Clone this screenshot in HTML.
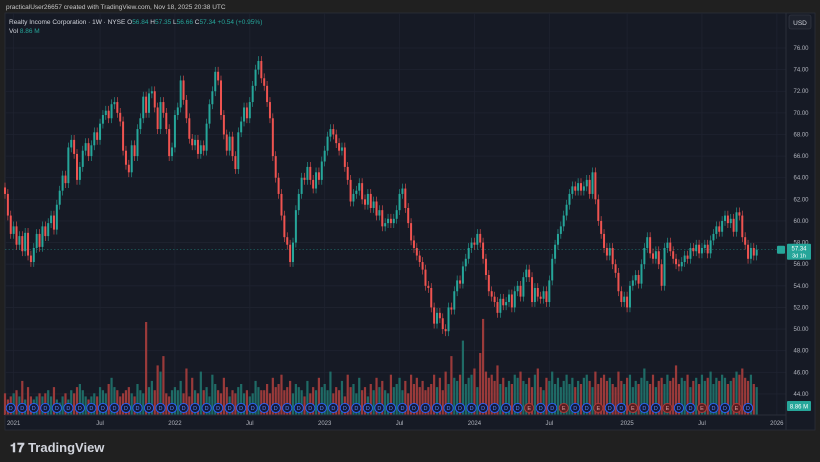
<!DOCTYPE html>
<html><head><meta charset="utf-8">
<style>
body{margin:0;background:#202020;width:820px;height:462px;overflow:hidden;font-family:"Liberation Sans",sans-serif}
svg{display:block}
</style></head>
<body>
<svg id="chart" width="820" height="462">
<rect x="0" y="0" width="820" height="462" fill="#202020"/>
<text x="6" y="9" font-size="6.5" fill="#c8c8c8">practicalUser26657 created with TradingView.com, Nov 18, 2025 20:38 UTC</text>
<rect x="5" y="13" width="810" height="417" fill="#161a25" stroke="#2a2e39" stroke-width="0.8"/>
<g id="grid"></g>
<g id="vol"></g>
<g id="candles"></g>
<g id="markers"></g>
<line x1="786" y1="13" x2="786" y2="430" stroke="#2a2e39"/>
<line x1="5" y1="415" x2="786" y2="415" stroke="#2a2e39"/>
<g id="axes" font-size="6" fill="#b2b5be"></g>
<rect x="789" y="15" width="22" height="14" rx="2" fill="#1e222d" stroke="#3a3e49" stroke-width="0.6"/>
<text x="800" y="25" font-size="6.5" fill="#d1d4dc" text-anchor="middle">USD</text>
<text x="9" y="24" font-size="6.5" fill="#d1d4dc">Realty Income Corporation · 1W · NYSE  O<tspan fill="#26a69a">56.84</tspan> H<tspan fill="#26a69a">57.35</tspan> L<tspan fill="#26a69a">56.66</tspan> C<tspan fill="#26a69a">57.34</tspan> <tspan fill="#26a69a">+0.54 (+0.95%)</tspan></text>
<text x="9" y="33" font-size="6.5" fill="#d1d4dc">Vol <tspan fill="#26a69a">8.86 M</tspan></text>
<text x="10" y="452" font-size="13" font-weight="bold" fill="#d1d4dc">𝟏𝟕 TradingView</text>
</svg>
<script>
const closes=[62.5,60.5,58.8,59.5,57.8,58.6,57.2,58.9,56.8,56.2,57.5,58.8,57.6,59.5,58.6,59.8,60.5,59.2,61.5,62.8,
64.2,63.5,66.8,67.5,66.2,63.8,65.0,66.5,67.2,66.0,67.0,68.2,67.5,69.0,69.8,70.2,69.5,70.8,71.0,70.0,
69.2,66.5,65.2,64.5,67.0,66.0,68.5,69.5,71.5,70.0,71.8,72.0,70.5,68.5,71.0,70.0,68.5,66.0,66.8,69.8,
70.5,73.0,71.2,69.5,67.6,67.0,67.5,66.2,67.0,66.5,69.0,70.8,72.0,73.8,73.0,69.8,68.0,66.5,67.8,66.0,
64.8,68.2,69.2,70.5,69.5,71.0,72.5,74.0,74.8,73.2,72.5,71.0,69.5,66.0,64.0,62.5,60.5,58.5,57.8,56.2,
58.0,61.0,62.5,64.0,63.8,65.0,63.8,63.0,64.5,63.8,65.5,66.5,67.8,68.5,68.0,67.2,66.5,66.8,65.0,63.8,
61.8,62.5,62.8,63.5,62.0,61.5,62.5,61.2,61.8,60.5,61.0,59.5,59.8,60.2,59.8,60.2,61.0,62.5,63.0,61.2,
59.8,58.2,57.5,56.8,56.2,55.5,54.0,53.8,52.0,50.5,51.5,51.0,50.0,49.8,52.0,51.8,53.5,54.5,54.2,55.8,
56.5,57.5,58.0,57.8,58.8,58.0,56.5,55.0,53.5,53.0,52.5,51.5,52.8,52.2,52.5,53.2,52.0,53.5,54.0,53.0,
54.8,55.5,54.8,52.5,53.8,53.0,52.8,53.5,52.5,54.5,56.5,57.8,58.8,59.5,60.5,61.5,62.5,63.2,62.8,63.5,
62.8,63.2,63.8,62.5,64.5,62.0,60.0,58.8,57.5,56.8,57.5,56.0,55.2,53.5,52.5,53.0,52.0,54.0,54.5,55.0,
54.2,56.0,57.5,58.5,57.0,56.5,57.2,56.0,54.0,57.5,58.0,57.2,56.5,56.0,55.8,56.2,56.8,56.5,57.5,57.2,
57.8,57.0,57.5,57.8,57.0,58.2,58.8,59.5,59.0,60.0,60.5,59.8,60.2,59.0,60.8,60.5,58.5,57.8,56.5,57.5,
56.8,57.34];
const volumes=[7,5,6,7,8,6,11,5,9,6,5,6,7,6,7,8,6,9,5,4,
6,7,5,8,7,9,10,8,6,5,6,7,6,9,8,7,10,12,9,8,
6,7,8,9,7,6,10,8,7,30,9,11,8,16,14,19,7,6,8,9,
8,11,7,15,6,12,8,7,14,8,9,6,13,10,8,7,12,9,6,8,
7,9,10,7,8,6,7,11,9,8,8,10,7,12,9,10,13,8,9,11,
7,10,9,8,6,11,7,9,8,12,9,10,8,14,7,9,8,11,6,13,
9,10,7,12,8,9,6,10,8,12,9,11,8,7,13,9,10,12,8,11,
7,13,10,12,9,11,8,9,10,13,9,12,8,14,10,19,12,11,13,24,
10,12,13,15,9,20,31,14,12,13,11,16,10,12,9,11,10,13,12,14,
11,10,12,9,13,15,9,8,12,11,14,10,12,9,11,13,10,12,9,11,
10,12,13,11,9,14,10,12,13,11,12,10,9,14,11,10,12,13,9,11,
10,12,15,11,10,13,9,11,12,10,13,11,12,16,10,12,11,13,9,11,
12,10,13,11,12,14,10,12,11,13,12,10,11,12,14,13,15,12,11,13,
10,9];
const priceTicks=[44,46,48,50,52,54,56,58,60,62,64,66,68,70,72,74,76];
const timeLabels=["2021","Jul","2022","Jul","2023","Jul","2024","Jul","2025","Jul","2026"];
const timeLabelWeeks=[3,33,59,85,111,137,163,189,216,242,268];

const NS="http://www.w3.org/2000/svg";
const X0=5,DX=2.88,BASE=415;
function xOf(i){return X0+i*DX;}
function yOf(p){return 48+(76-p)*10.81;}
function vh(v){return v*3.1;}
function mk(tag,attrs,parent){const e=document.createElementNS(NS,tag);for(const k in attrs)e.setAttribute(k,attrs[k]);parent.appendChild(e);return e;}
const grid=document.getElementById('grid'),axes=document.getElementById('axes');
priceTicks.forEach(p=>{
  const l=mk('line',{x1:5,x2:786,y1:yOf(p),y2:yOf(p),stroke:'#1f2330','stroke-width':0.8},grid);
  
  
  const t=mk('text',{x:801,y:yOf(p)+2,'text-anchor':'middle'},axes);
  t.textContent=p.toFixed(2);
  
  
});
timeLabels.forEach((s,k)=>{
  const x=xOf(timeLabelWeeks[k]);
  const l=mk('line',{x1:x,x2:x,y1:13,y2:415,stroke:'#1f2330','stroke-width':0.8},grid);
  
  
  const t=mk('text',{x:x,y:425,'text-anchor':'middle'},axes);
  t.textContent=s;
  
  
});
const vol=document.getElementById('vol'),cg=document.getElementById('candles'),mg=document.getElementById('markers');
const UP='#26a69a',DN='#ef5350';
closes.forEach((c,i)=>{
  const o=i===0?c+0.6:closes[i-1];
  const up=c>=o, col=up?UP:DN, x=xOf(i);
  const h=Math.max(o,c)+0.45, lo=Math.min(o,c)-0.45;
  const w=mk('line',{x1:x,x2:x,y1:yOf(h),y2:yOf(lo),stroke:col,'stroke-width':0.6},cg);
  
  
  const b=mk('rect',{x:x-1,y:yOf(Math.max(o,c)),width:2,height:Math.max(0.8,Math.abs(yOf(o)-yOf(c))),fill:col},cg);
  
  
  const v=mk('rect',{x:x-1.1,y:BASE-vh(volumes[i]),width:2.2,height:vh(volumes[i]),fill:up?'#1f6b66':'#9a3a3a'},vol);
  
  
});
for(let i=2;i<closes.length;i+=4){
  const x=xOf(i);
  const isE=i>170&&(i%12===2);
  const m=mk('circle',{cx:x,cy:408,r:4.6,fill:isE?'#5a1e22':'#141a3a',stroke:isE?'#b03a3a':'#2962ff','stroke-width':0.9},mg);
  
  
  const t=mk('text',{x:x,y:410.2,'font-size':5.5,'text-anchor':'middle',fill:isE?'#e0a0a0':'#5b8cff'},mg);
  t.textContent=isE?'E':'D';
  
  
}
const ly=yOf(57.34);
const pl=mk('line',{x1:5,x2:786,y1:ly,y2:ly,stroke:'#26a69a','stroke-width':0.6,'stroke-dasharray':'1.5,2',opacity:0.6},grid);


const svg=document.getElementById('chart');
const q=mk('rect',{x:777,y:ly-4,width:8,height:8,fill:'#26a69a',rx:1},svg);


const pb=mk('rect',{x:787,y:ly-6,width:24,height:16,fill:'#26a69a',rx:1},svg);


const pt=mk('text',{x:799,y:ly+1,'font-size':6,'text-anchor':'middle',fill:'#fff'},svg);
pt.textContent='57.34';


const ct=mk('text',{x:799,y:ly+8,'font-size':5.5,'text-anchor':'middle',fill:'#fff'},svg);
ct.textContent='3d 1h';


const vb=mk('rect',{x:787,y:401,width:24,height:10,fill:'#26a69a',rx:1},svg);


const vt=mk('text',{x:799,y:408.5,'font-size':6,'text-anchor':'middle',fill:'#fff'},svg);
vt.textContent='8.86 M';


</script>
</body></html>
